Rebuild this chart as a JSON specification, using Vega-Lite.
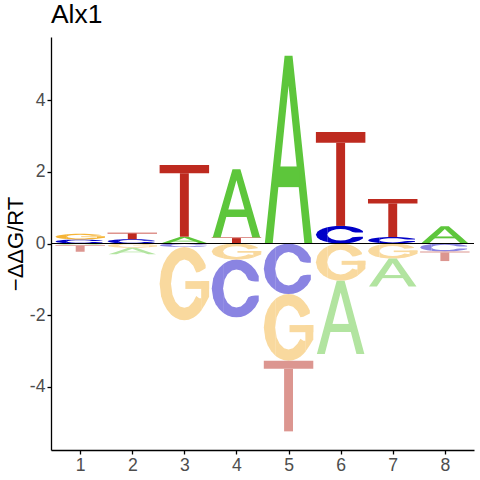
{
  "$schema": "https://vega.github.io/schema/vega-lite/v6.json",
  "width": 423,
  "height": 413,
  "autosize": "none",
  "padding": {"left": 51, "top": 37, "right": 6, "bottom": 30},
  "title": {"text": "Alx1", "anchor": "start", "frame": "group", "fontSize": 26.4, "fontWeight": "normal", "font": "Liberation Sans", "color": "black", "baseline": "bottom", "offset": -18},
  "datasets": {
    "logo": [
      {"pos": 1, "letter": "C", "value": 0.11},
      {"pos": 1, "letter": "G", "value": 0.16},
      {"pos": 1, "letter": "A", "value": -0.04},
      {"pos": 1, "letter": "T", "value": -0.19},
      {"pos": 2, "letter": "C", "value": 0.12},
      {"pos": 2, "letter": "T", "value": 0.18},
      {"pos": 2, "letter": "G", "value": -0.12},
      {"pos": 2, "letter": "A", "value": -0.18},
      {"pos": 3, "letter": "A", "value": 0.19},
      {"pos": 3, "letter": "T", "value": 2.0},
      {"pos": 3, "letter": "C", "value": -0.1},
      {"pos": 3, "letter": "G", "value": -2.04},
      {"pos": 4, "letter": "T", "value": 0.17},
      {"pos": 4, "letter": "A", "value": 1.9},
      {"pos": 4, "letter": "G", "value": -0.45},
      {"pos": 4, "letter": "C", "value": -1.61},
      {"pos": 5, "letter": "A", "value": 5.24},
      {"pos": 5, "letter": "C", "value": -1.41},
      {"pos": 5, "letter": "G", "value": -1.86},
      {"pos": 5, "letter": "T", "value": -1.97},
      {"pos": 6, "letter": "C", "value": 0.49},
      {"pos": 6, "letter": "T", "value": 2.62},
      {"pos": 6, "letter": "G", "value": -1.04},
      {"pos": 6, "letter": "A", "value": -2.04},
      {"pos": 7, "letter": "C", "value": 0.18},
      {"pos": 7, "letter": "T", "value": 1.06},
      {"pos": 7, "letter": "G", "value": -0.42},
      {"pos": 7, "letter": "A", "value": -0.78},
      {"pos": 8, "letter": "A", "value": 0.48},
      {"pos": 8, "letter": "C", "value": -0.22},
      {"pos": 8, "letter": "T", "value": -0.27}
    ],
    "glyphs": [
      {"letter": "A",
       "part": ["a1","a1","a1","a1","a1","a1","a1","a2","a2"],
       "gx":   [0.02,0.18,0.42,0.5,0.58,0.82,0.98,0.28,0.72],
       "glo":  [0,0,0.63,0.84,0.63,0,0,0.30,0.30],
       "ghi":  [0,0.4,1,1,1,0.4,0,0.41,0.41]},
      {"letter": "T",
       "part": ["t1","t1","t2","t2"],
       "gx":   [0,1,0.41,0.59],
       "glo":  [0.885,0.885,0,0],
       "ghi":  [1,1,0.885,0.885]},
      {"letter": "C",
       "part": ["c1","c1","c1","c1","c1",
                "c2","c2","c2","c2","c2","c2","c2","c2","c2","c2","c2",
                "c3","c3","c3","c3","c3","c3","c3","c3","c3","c3","c3"],
       "gx":   [0,0.03,0.08,0.15,0.23,
                0.23,0.26,0.32,0.41,0.5,0.59,0.68,0.74,0.8,0.88,0.95,
                0.23,0.26,0.32,0.41,0.5,0.59,0.68,0.74,0.8,0.88,0.95],
       "glo":  [0.5,0.329,0.229,0.143,0.079,
                0.5,0.651,0.746,0.811,0.83,0.811,0.746,0.651,0.63,0.62,0.62,
                0.079,0.061,0.033,0.008,0,0.008,0.033,0.061,0.1,0.175,0.282],
       "ghi":  [0.5,0.671,0.771,0.857,0.921,
                0.921,0.939,0.967,0.992,1,0.992,0.967,0.939,0.9,0.825,0.718,
                0.5,0.349,0.254,0.189,0.17,0.189,0.254,0.349,0.37,0.38,0.38]},
      {"letter": "G",
       "part": ["g1","g1","g1","g1","g1",
                "g2","g2","g2","g2","g2","g2","g2","g2","g2","g2","g2",
                "g3","g3","g3","g3","g3","g3","g3","g3","g3","g3",
                "g4","g4","g4",
                "g5","g5"],
       "gx":   [0,0.03,0.08,0.15,0.23,
                0.23,0.26,0.32,0.41,0.5,0.59,0.68,0.74,0.8,0.88,0.93,
                0.23,0.26,0.32,0.41,0.5,0.59,0.68,0.74,0.8,0.845,
                0.84,0.92,1.0,
                0.52,1.0],
       "glo":  [0.5,0.329,0.229,0.143,0.079,
                0.5,0.651,0.746,0.811,0.83,0.811,0.746,0.651,0.66,0.69,0.71,
                0.079,0.061,0.033,0.008,0,0.008,0.033,0.061,0.1,0.137,
                0.133,0.22,0.32,
                0.428,0.428],
       "ghi":  [0.5,0.671,0.771,0.857,0.921,
                0.921,0.939,0.967,0.992,1,0.992,0.967,0.939,0.9,0.825,0.755,
                0.5,0.349,0.254,0.189,0.17,0.189,0.254,0.33,0.3,0.3,
                0.535,0.535,0.535,
                0.535,0.535]}
    ]
  },
  "layer": [
    {
      "data": {"name": "logo"},
      "transform": [
        {"calculate": "abs(datum.value)", "as": "absval"},
        {"stack": "value", "groupby": ["pos"], "sort": [{"field": "absval", "order": "ascending"}], "as": ["s0", "s1"]},
        {"calculate": "min(datum.s0, datum.s1)", "as": "lo"},
        {"calculate": "max(datum.s0, datum.s1)", "as": "hi"},
        {"calculate": "datum.letter + (datum.value < 0 ? '-' : '+')", "as": "key"},
        {"lookup": "letter", "from": {"data": {"name": "glyphs"}, "key": "letter", "fields": ["part", "gx", "glo", "ghi"]}},
        {"flatten": ["part", "gx", "glo", "ghi"]},
        {"calculate": "datum.pos - 0.475 + datum.gx * 0.95", "as": "x"},
        {"calculate": "datum.lo + datum.glo * (datum.hi - datum.lo)", "as": "ylo"},
        {"calculate": "datum.lo + datum.ghi * (datum.hi - datum.lo)", "as": "yhi"},
        {"calculate": "datum.pos + '_' + datum.letter + '_' + datum.part", "as": "id"}
      ],
      "mark": {"type": "area", "interpolate": "linear"},
      "encoding": {
        "x": {"field": "x", "type": "quantitative",
              "scale": {"domain": [0.44, 8.56], "nice": false, "zero": false},
              "axis": {"values": [1, 2, 3, 4, 5, 6, 7, 8], "format": "d", "title": null, "labelPadding": 2.5}},
        "y": {"field": "ylo", "type": "quantitative", "stack": null,
              "scale": {"domain": [-5.76, 5.76], "nice": false, "zero": false},
              "axis": {"values": [-4, -2, 0, 2, 4], "labelExpr": "datum.value + ''", "title": "−ΔΔG/RT", "labelPadding": 2, "titlePadding": 2}},
        "y2": {"field": "yhi"},
        "detail": {"field": "id"},
        "color": {"field": "key", "type": "nominal", "legend": null,
                  "scale": {"domain": ["A+", "C+", "G+", "T+", "A-", "C-", "G-", "T-"],
                            "range": ["#5DC63B", "#0000C8", "#F5B436", "#BE2A1F", "#B2E4A0", "#8A84E2", "#F9D99E", "#DC9690"]}}
      }
    },
    {
      "data": {"values": [{}]},
      "mark": {"type": "rule", "color": "black", "strokeWidth": 1},
      "encoding": {"y": {"datum": 0}}
    }
  ],
  "config": {
    "view": {"stroke": null},
    "font": "Liberation Sans",
    "axis": {
      "domainColor": "black", "domainWidth": 1.3, "tickColor": "black", "tickWidth": 1.3, "tickSize": 4,
      "labelColor": "#4D4D4D", "labelFontSize": 17.6, "labelFont": "Liberation Sans",
      "grid": false, "titleFont": "Liberation Sans", "titleFontSize": 22, "titleFontWeight": "normal", "titleColor": "black"
    }
  }
}
